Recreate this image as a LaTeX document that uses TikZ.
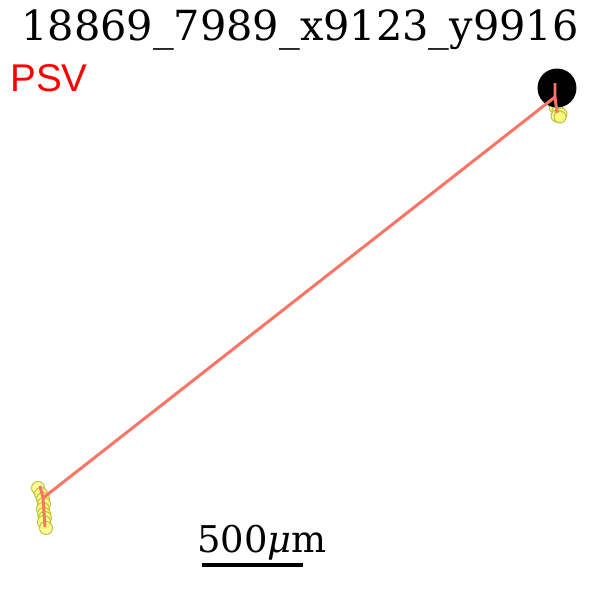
\documentclass[tikz,border=0pt]{standalone}
\usepackage{fontspec}
\setmainfont{DejaVu Serif}
\newfontfamily\labelfont{Liberation Sans}
\usetikzlibrary{positioning}
\definecolor{neurite}{HTML}{FA7566}
\definecolor{synfill}{HTML}{FFFF80}
\definecolor{synedge}{HTML}{C0C040}

\begin{document}
\begin{tikzpicture}[
    x=0.02cm, y=-0.02cm,
    soma/.style={circle, fill=black, inner sep=0pt, minimum size=0.78cm},
    syn/.style={draw=synedge, fill=synfill, fill opacity=0.75, line width=0.6pt},
    branch/.style={draw=neurite, line width=1.7pt},
    title/.style={font=\fontsize{23.6}{28}\selectfont, inner sep=0pt},
    tag/.style={font=\labelfont\fontsize{22}{26}\selectfont, text=red, inner sep=0pt},
    bar/.style={line width=2.8pt, black}
]
\useasboundingbox (0,0) rectangle (600,600);

\node[title, anchor=base] (name) at (300,40) {18869\_7989\_x9123\_y9916};
\node[tag, anchor=base west] (psv) at (10,91) {PSV};

% synapse markers
\foreach \px/\py in {38/488, 41/494, 43/499, 44/504, 43/509, 44/514, 45/518, 44/522, 46/528}
    \draw[syn] (\px,\py) circle (6.5);
\foreach \px/\py in {555/107, 558/111, 561/114, 557/116, 560/117}
    \draw[syn] (\px,\py) circle (6);

\node[soma] (body) at (557,88) {};
\coordinate (top) at (555,83);
\coordinate (stem) at (557,113);
\coordinate (fork) at (555,97);
\coordinate (tip) at (43,498);
\coordinate (tipup) at (40,486);
\coordinate (tipdown) at (45,527);

\draw[branch] (top) -- (fork) -- (stem);
\draw[branch] (fork) -- (tip);
\draw[branch] (tipup) -- (tip) -- (tipdown);

% scale
\coordinate (barl) at (202,565);
\coordinate (barr) at (303,565);
\draw[bar] (barl) -- (barr);
\node[font=\fontsize{21}{25}\selectfont, anchor=base, inner sep=0pt] (scale) at (262,552) {500{\itshape μ}m};
\end{tikzpicture}
\end{document}
